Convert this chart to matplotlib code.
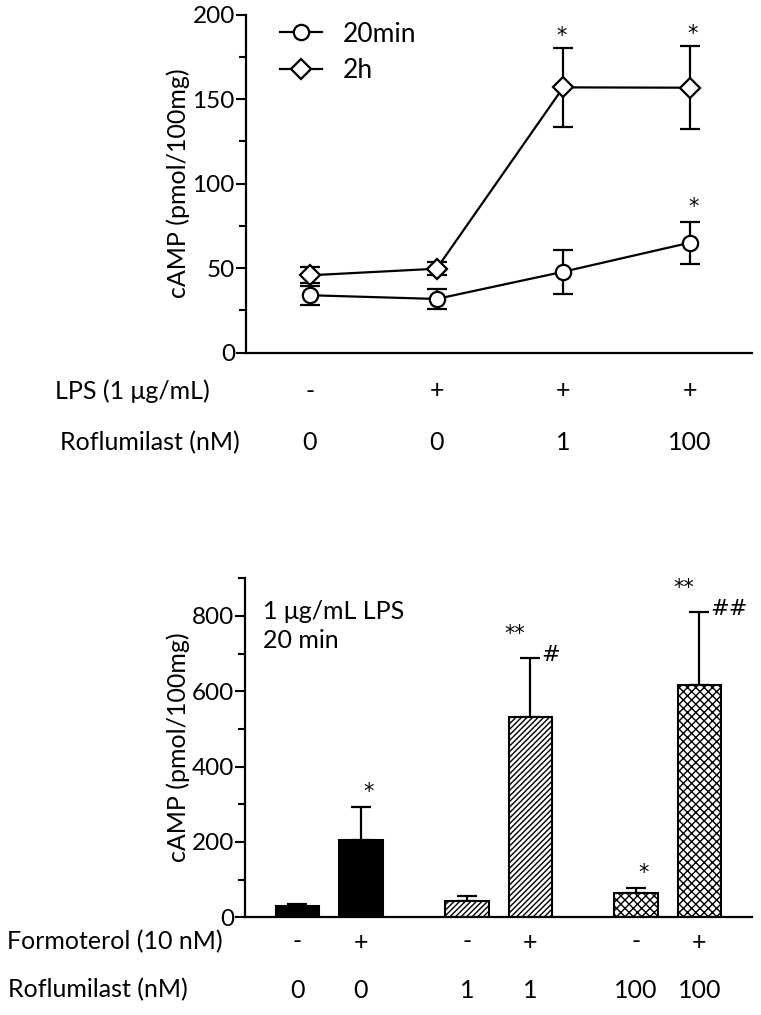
import numpy as np
import matplotlib
matplotlib.use("Agg")
import matplotlib.pyplot as plt
from matplotlib.ticker import MultipleLocator
from matplotlib.lines import Line2D

plt.rcParams['font.family'] = ['Lato', 'DejaVu Sans']
plt.rcParams['hatch.linewidth'] = 1.0
FS = 18
TICK_FS = 17.5
SIG_FONT = dict(family='DejaVu Sans', fontsize=15)

# === data: top panel (time course) ===
lps_marks = ['-', '+', '+', '+']
rofl_top = ['0', '0', '1', '100']
camp_20min = [34.0, 31.8, 47.9, 65.1]
err_20min = [5.5, 5.8, 13.1, 12.4]
camp_2h = [45.8, 49.7, 157.0, 156.8]
err_2h = [4.8, 4.0, 23.5, 24.6]
sig_2h = ['', '', '*', '*']
sig_20min = ['', '', '', '*']

# === data: bottom panel (formoterol) ===
formo_marks = ['-', '+', '-', '+', '-', '+']
rofl_bot = ['0', '0', '1', '1', '100', '100']
camp_bar = [30, 205, 43, 532, 65, 617]
err_bar = [6, 88, 14, 156, 14, 193]
bar_x = [0, 1, 2.67, 3.67, 5.33, 6.33]
bar_hatch = [None, None, '//////', '//////', 'xxxx', 'xxxx']
bar_color = ['black', 'black', 'white', 'white', 'white', 'white']
sig_star = ['', '*', '', '**', '*', '**']
sig_hash = ['', '', '', '#', '', '##']

fig = plt.figure(figsize=(7.61, 10.15), dpi=100)


def style_axis(ax):
    for s in ['top', 'right']:
        ax.spines[s].set_visible(False)
    for s in ['left', 'bottom']:
        ax.spines[s].set_linewidth(1.6)
    ax.tick_params(axis='y', which='major', length=7, width=1.5, labelsize=TICK_FS, pad=1)
    ax.tick_params(axis='y', which='minor', length=5, width=1.5)
    ax.tick_params(axis='x', which='both', bottom=False, labelbottom=False)


# ---- top panel ----
ax1 = fig.add_axes([246 / 761, 1 - 352.7 / 1015, 506 / 761, 338 / 1015])
xs = np.arange(len(camp_20min))
ax1.errorbar(xs, camp_20min, yerr=err_20min, color='black', lw=1.6, marker='o', ms=11,
             mfc='white', mec='black', mew=1.6, capsize=7, capthick=1.6, elinewidth=1.6)
ax1.errorbar(xs, camp_2h, yerr=err_2h, color='black', lw=1.6, marker='D', ms=10,
             mfc='white', mec='black', mew=1.6, capsize=7, capthick=1.6, elinewidth=1.6)
for i in range(len(xs)):
    if sig_2h[i]:
        ax1.text(xs[i] + 0.03 * i - 0.07, camp_2h[i] + err_2h[i] + 1, sig_2h[i],
                 ha='center', va='bottom', **SIG_FONT)
    if sig_20min[i]:
        ax1.text(xs[i] + 0.03, camp_20min[i] + err_20min[i] + 3, sig_20min[i],
                 ha='center', va='bottom', **SIG_FONT)
ax1.set_xlim(-0.505, 3.49)
ax1.set_ylim(0, 200)
ax1.yaxis.set_major_locator(MultipleLocator(50))
ax1.yaxis.set_minor_locator(MultipleLocator(25))
style_axis(ax1)

handles = [
    Line2D([], [], color='black', lw=1.6, marker='o', ms=11, mfc='white', mew=1.6),
    Line2D([], [], color='black', lw=1.6, marker='D', ms=10, mfc='white', mew=1.6),
]
ax1.legend(handles, ['20min', '2h'], loc='upper left', bbox_to_anchor=(0.02, 1.05),
           frameon=False, fontsize=FS + 1, handlelength=1.6, handletextpad=0.8,
           labelspacing=0.45)

tr1 = ax1.get_xaxis_transform()
for i in range(len(xs)):
    ax1.text(xs[i], (352.7 - 391) / 338, lps_marks[i], transform=tr1,
             ha='center', va='center', fontsize=FS)
    ax1.text(xs[i], (352.7 - 443) / 338, rofl_top[i], transform=tr1,
             ha='center', va='center', fontsize=FS)
fig.text(55 / 761, 1 - 391 / 1015, 'LPS (1 μg/mL)', ha='left', va='center', fontsize=FS)
fig.text(60 / 761, 1 - 443 / 1015, 'Roflumilast (nM)', ha='left', va='center', fontsize=FS)
fig.text(178 / 761, 1 - 183 / 1015, 'cAMP (pmol/100mg)', rotation=90,
         ha='center', va='center', fontsize=FS)

# ---- bottom panel ----
ax2 = fig.add_axes([245 / 761, 1 - 917.3 / 1015, 507 / 761, 339 / 1015])
lower = np.zeros(len(err_bar))
for i in range(len(bar_x)):
    ax2.bar(bar_x[i], camp_bar[i], width=0.685, color=bar_color[i], edgecolor='black',
            linewidth=1.5, hatch=bar_hatch[i], zorder=2)
ax2.errorbar(bar_x, camp_bar, yerr=[lower, err_bar], fmt='none', ecolor='black',
             elinewidth=1.6, capsize=7.5, capthick=1.6, zorder=1)
for i in range(len(bar_x)):
    top = camp_bar[i] + err_bar[i]
    if sig_star[i] and not sig_hash[i]:
        ax2.text(bar_x[i] + 0.12, top + 12, sig_star[i], ha='center', va='bottom', **SIG_FONT)
    elif sig_star[i]:
        ax2.text(bar_x[i] - 0.24, top + 38, sig_star[i], ha='center', va='bottom', **SIG_FONT)
    if sig_hash[i]:
        ax2.text(bar_x[i] + 0.17, top - 18, sig_hash[i], ha='left', va='bottom',
                 family='DejaVu Sans', fontsize=16)
ax2.set_xlim(-0.827, 7.16)
ax2.set_ylim(0, 900)
ax2.yaxis.set_major_locator(MultipleLocator(200))
ax2.yaxis.set_minor_locator(MultipleLocator(100))
style_axis(ax2)
ax2.text(0.035, 0.935, '1 μg/mL LPS\n20 min', transform=ax2.transAxes, ha='left', va='top',
         fontsize=FS, linespacing=1.3)

tr2 = ax2.get_xaxis_transform()
for i in range(len(bar_x)):
    ax2.text(bar_x[i], (917.3 - 942) / 339, formo_marks[i], transform=tr2,
             ha='center', va='center', fontsize=FS)
    ax2.text(bar_x[i], (917.3 - 990) / 339, rofl_bot[i], transform=tr2,
             ha='center', va='center', fontsize=FS)
fig.text(7 / 761, 1 - 942 / 1015, 'Formoterol (10 nM)', ha='left', va='center', fontsize=FS)
fig.text(8 / 761, 1 - 990 / 1015, 'Roflumilast (nM)', ha='left', va='center', fontsize=FS)
fig.text(178 / 761, 1 - 747 / 1015, 'cAMP (pmol/100mg)', rotation=90,
         ha='center', va='center', fontsize=FS)

fig.savefig('out.png', dpi=100)
